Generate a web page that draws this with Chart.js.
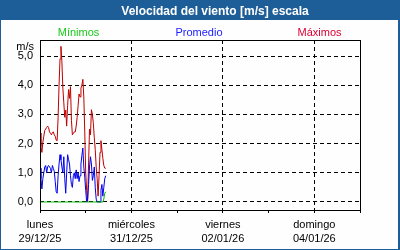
<!DOCTYPE html>
<html>
<head>
<meta charset="utf-8">
<script src="https://cdn.jsdelivr.net/npm/chart.js@4"></script>
<style>
html,body{margin:0;padding:0;background:#fff;}
#wrap{width:400px;height:250px;position:relative;}
</style>
</head>
<body>
<div id="wrap"><canvas id="c" width="400" height="250"></canvas></div>
<script>
// ---- DATA ----
const chartTitle = 'Velocidad del viento [m/s] escala';
const unitLabel = 'm/s';
const seriesNames = ['Mínimos', 'Promedio', 'Máximos'];
// hours since lunes 29/12/25 00:00 (30-minute samples)
const sampleHours = [0,0.5,1,1.5,2,2.5,3,3.5,4,4.5,5,5.5,6,6.5,7,7.5,8,8.5,9,9.5,
  10,10.5,11,11.5,12,12.5,13,13.5,14,14.5,15,15.5,16,16.5,17,17.5,18,18.5,19,19.5,
  20,20.5,21,21.5,22,22.5,23,23.5,24,24.5,25,25.5,26,26.5,27,27.5,28,28.5,29,29.5,
  30,30.5,31,31.5,32,32.5,33,33.5,34,34.5];
const minValues = [0,0,0,0,0,0,0,0,0,0,0,0,0,0,0,0,0,0,0,0,
  0,0,0,0,0,0,0,0,0,0,0,0,0,0,0,0,0,0,0,0,
  0,0,0,0,0,0,0,0,0,0,0,0,0,0,0,0,0,0,0,0,
  0,0,0,0,0,0,0,0.1,0.3,0.35];
const avgValues = [1.16,0.8,0.45,0.8,1.0,1.2,1.25,1.0,1.2,1.25,1.2,1.15,1.0,1.25,1.15,1.05,0.7,0.35,0.3,0.9,
  1.3,1.62,1.45,1.2,1.0,1.55,0.8,0.3,1.0,1.62,1.45,1.3,0.9,0.6,0.5,0.9,1.0,0.8,1.1,0.8,
  1.0,0.7,0.9,1.3,1.6,1.85,1.2,0.85,0.4,0.0,0.1,0.6,1.2,1.55,1.3,0.74,0.9,1.2,0.5,0.1,
  0.0,0.0,0.0,0.0,0.4,0.6,0.2,0.5,0.8,0.9];
const maxValues = [2.36,1.9,1.7,2.05,2.25,2.45,2.5,2.55,2.6,2.55,2.4,2.35,2.3,2.38,2.4,2.3,2.25,2.12,2.1,2.9,
  4.0,4.9,5.33,4.8,3.9,3.4,2.9,3.15,2.6,3.3,3.85,3.55,3.95,2.8,2.3,2.35,2.4,2.4,2.6,2.9,
  3.3,3.7,3.6,3.9,4.0,4.2,3.6,2.4,1.0,0.4,0.0,1.3,2.5,2.3,3.16,3.0,2.7,2.2,1.8,1.2,
  0.8,0.2,0.9,1.7,2.1,1.8,1.5,1.25,1.16,1.15];
const dayNames = ['lunes','martes','miércoles','jueves','viernes','sábado','domingo','lunes'];
const dayDates = ['29/12/25','30/12/25','31/12/25','01/01/26','02/01/26','03/01/26','04/01/26','05/01/26'];
const yTickValues = [0,1,2,3,4,5];

// ---- STYLE ----
const FONT = "'Liberation Sans', Arial, sans-serif";
const frameBlue = '#1d5e98';
const lineColors = ['#00b400', '#0000ee', '#c00000'];
const legendColors = ['#18c818', '#2020ff', '#dd0033'];
const legendX = [78.5, 199, 319.5];

const toXY = vals => vals.map((v, i) => ({x: sampleHours[i], y: v}));

const decor = {
  id: 'decor',
  beforeDraw(chart) {
    const ctx = chart.ctx;
    ctx.save();
    ctx.fillStyle = '#fdfefd';
    ctx.fillRect(0, 0, 400, 250);
    ctx.restore();
  },
  afterDraw(chart) {
    const ctx = chart.ctx;
    const a = chart.chartArea;
    ctx.save();
    // plot frame
    ctx.strokeStyle = '#000';
    ctx.lineWidth = 1;
    ctx.setLineDash([]);
    ctx.strokeRect(a.left + 0.5, a.top + 0.5, a.right - a.left, a.bottom - a.top);
    // outer frame & title bar
    ctx.fillStyle = frameBlue;
    ctx.fillRect(0, 0, 400, 20);
    ctx.fillRect(0, 0, 1, 250);
    ctx.fillRect(398, 0, 2, 250);
    ctx.fillRect(0, 249, 400, 1);
    ctx.fillStyle = '#fff';
    ctx.font = 'bold 12px ' + FONT;
    ctx.textAlign = 'center';
    ctx.textBaseline = 'alphabetic';
    ctx.fillText(chartTitle, 215, 14.5);
    // legend
    ctx.font = '11px ' + FONT;
    chart.data.datasets.forEach((ds, i) => {
      ctx.fillStyle = legendColors[i];
      ctx.fillText(ds.label, legendX[i], 36);
    });
    // unit
    ctx.fillStyle = '#000';
    ctx.textAlign = 'right';
    ctx.fillText(unitLabel, 34, 50);
    ctx.restore();
  }
};

new Chart(document.getElementById('c'), {
  type: 'line',
  data: {
    datasets: [
      {label: seriesNames[0], data: toXY(minValues), borderColor: lineColors[0]},
      {label: seriesNames[1], data: toXY(avgValues), borderColor: lineColors[1]},
      {label: seriesNames[2], data: toXY(maxValues), borderColor: lineColors[2]}
    ]
  },
  options: {
    responsive: false,
    animation: false,
    devicePixelRatio: 1,
    layout: {padding: {top: 40, right: 40, bottom: 0, left: 0}},
    elements: {
      line: {borderWidth: 1, tension: 0, fill: false},
      point: {radius: 0, hoverRadius: 0}
    },
    plugins: {legend: {display: false}, title: {display: false}, tooltip: {enabled: false}},
    events: [],
    scales: {
      x: {
        type: 'linear',
        min: 0,
        max: 168,
        afterFit(s) { s.height = 40; },
        ticks: {
          stepSize: 24,
          autoSkip: false,
          maxRotation: 0,
          minRotation: 0,
          padding: 5,
          color: '#000',
          font: {family: FONT, size: 11, lineHeight: 1.27},
          callback(v) {
            const d = Math.round(v / 24);
            if (d % 2 === 0 && d < 7) return [dayNames[d], dayDates[d]];
            return '';
          }
        },
        grid: {
          color(ctx) {
            const v = ctx.tick ? ctx.tick.value : 0;
            return (v > 0 && v < 168 && (v / 24) % 2 === 0) ? '#000' : 'rgba(0,0,0,0)';
          },
          tickColor: '#000',
          tickLength: 3,
          drawTicks: true,
          lineWidth: 1
        },
        border: {display: false, dash: [4, 3]}
      },
      y: {
        type: 'linear',
        min: -0.274,
        max: 5.548,
        z: 1,
        afterFit(s) { s.width = 40; },
        afterBuildTicks(s) { s.ticks = yTickValues.map(v => ({value: v})); },
        ticks: {
          stepSize: 1,
          includeBounds: false,
          padding: 7,
          color: '#000',
          font: {family: FONT, size: 11},
          callback(v) { return v.toFixed(1).replace('.', ','); }
        },
        grid: {color: '#000', drawTicks: false, lineWidth: 1},
        border: {display: false, dash: [4, 3]}
      }
    }
  },
  plugins: [decor]
});
</script>
</body>
</html>
